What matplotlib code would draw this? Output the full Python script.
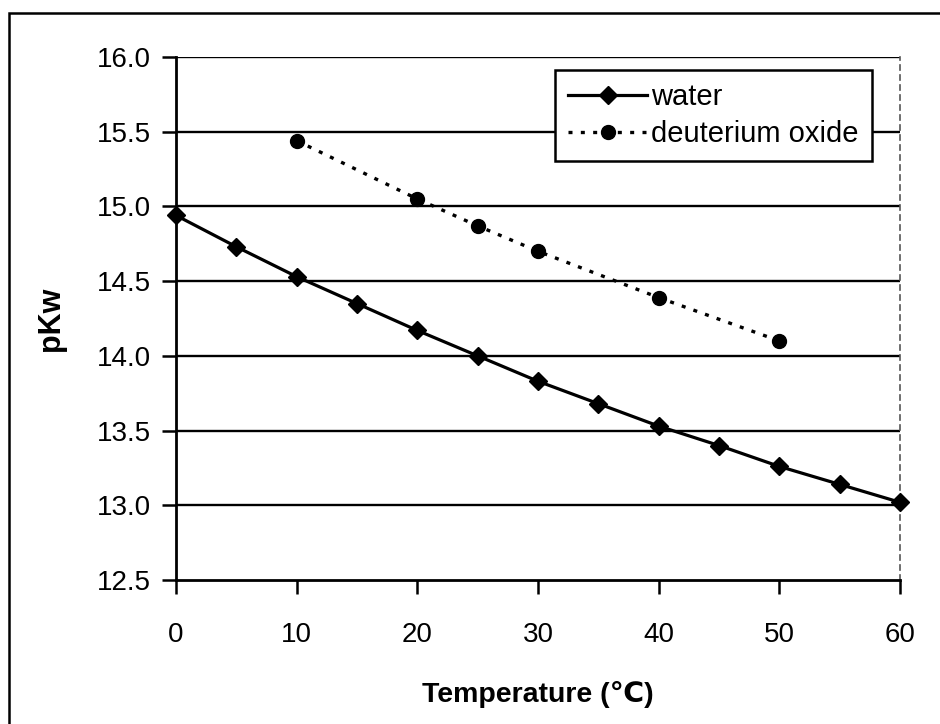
import matplotlib
matplotlib.use("Agg")
import matplotlib.pyplot as plt
from matplotlib.patches import Rectangle

plt.rcParams['font.family'] = ['Liberation Sans', 'DejaVu Sans']

# pKw of water and heavy water versus temperature
water_temp = [0, 5, 10, 15, 20, 25, 30, 35, 40, 45, 50, 55, 60]
water_pkw = [14.94, 14.73, 14.53, 14.35, 14.17, 14.00, 13.83, 13.68, 13.53, 13.40, 13.26, 13.14, 13.02]

d2o_temp = [10, 20, 25, 30, 40, 50]
d2o_pkw = [15.44, 15.05, 14.87, 14.70, 14.39, 14.10]

x_ticks = [0, 10, 20, 30, 40, 50, 60]
y_ticks = [12.5, 13.0, 13.5, 14.0, 14.5, 15.0, 15.5, 16.0]

W, H = 940, 724
fig = plt.figure(figsize=(W / 100, H / 100), dpi=100)

# outer chart frame
fig.patches.append(Rectangle((9 / W, -0.05), 1.2, (H - 13) / H + 0.05,
                             transform=fig.transFigure, fill=False,
                             edgecolor='black', linewidth=1.8, zorder=0))

ax = fig.add_axes([176 / W, 1 - 580 / H, (900 - 176) / W, (580 - 57) / H])

ax.set_xlim(0, 60)
ax.set_ylim(12.5, 16.0)
ax.set_xticks(x_ticks)
ax.set_yticks(y_ticks)
ax.set_yticklabels([f"{v:.1f}" for v in y_ticks])

for v in y_ticks[1:]:
    ax.axhline(v, color='black', linewidth=1.7, zorder=1)

ax.plot(water_temp, water_pkw, color='black', linestyle='-', linewidth=2.3,
        marker='D', markersize=9, label='water', zorder=3, clip_on=False)
ax.plot(d2o_temp, d2o_pkw, color='black', linestyle=(0, (1.2, 2.5)), linewidth=2.4,
        marker='o', markersize=10, label='deuterium oxide', zorder=3, clip_on=False)

for side in ['left', 'bottom']:
    ax.spines[side].set_linewidth(2.0)
    ax.spines[side].set_color('black')
ax.spines['top'].set_visible(False)
ax.spines['right'].set_linestyle((0, (3, 3)))
ax.spines['right'].set_linewidth(1.2)
ax.spines['right'].set_color('#555555')

ax.tick_params(axis='both', direction='out', length=10, width=1.8,
               labelsize=20, pad=8, colors='black')
ax.tick_params(axis='x', pad=20)

ax.set_xlabel('Temperature (\u2103)', fontsize=20.5, fontweight='bold', labelpad=24)
ax.set_ylabel('pKw', fontsize=22, fontweight='bold', labelpad=22)

leg = ax.legend(loc='upper right', bbox_to_anchor=((872 - 176) / (900 - 176), 1 - (70 - 57) / (580 - 57)),
                fontsize=21, frameon=True, fancybox=False, handlelength=2.7,
                handletextpad=0.15, borderpad=0.45, labelspacing=0.3,
                borderaxespad=0)
leg.get_frame().set_edgecolor('black')
leg.get_frame().set_linewidth(1.8)
leg.get_frame().set_facecolor('white')
leg.get_frame().set_alpha(1)
leg.set_zorder(5)

fig.savefig('out.png', dpi=100)
